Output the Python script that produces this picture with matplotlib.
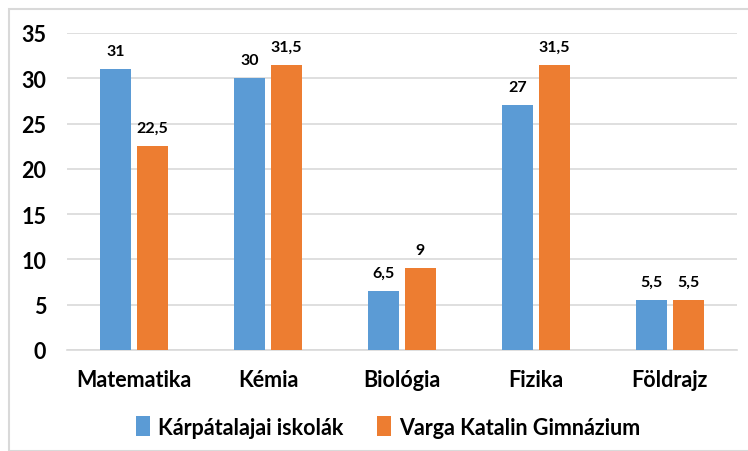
import matplotlib.pyplot as plt
import numpy as np
from matplotlib.patches import Rectangle

categories = ['Matematika', 'Kémia', 'Biológia', 'Fizika', 'Földrajz']
series_names = ['Kárpátalajai iskolák', 'Varga Katalin Gimnázium']
karpatalja = [31, 30, 6.5, 27, 5.5]
varga = [22.5, 31.5, 9, 31.5, 5.5]
y_ticks = [0, 5, 10, 15, 20, 25, 30, 35]

blue = '#5B9BD5'
orange = '#ED7D31'

plt.rcParams['font.family'] = ['Lato', 'DejaVu Sans']
plt.rcParams['font.weight'] = 'bold'

fig = plt.figure(figsize=(7.48, 4.52), dpi=100)
fig.patches.append(Rectangle((9 / 748, 0), 1, 1 - 10 / 452, transform=fig.transFigure,
                             fill=False, edgecolor='#D9D9D9', linewidth=1.5))
ax = fig.add_axes([0.0896, 0.2235, 0.8954, 0.7013])

x = np.arange(len(categories))
w = 0.23
off = 0.138
b1 = ax.bar(x - off, karpatalja, w, color=blue, label=series_names[0], zorder=3)
b2 = ax.bar(x + off, varga, w, color=orange, label=series_names[1], zorder=3)

def fmt(v):
    return ('%g' % v).replace('.', ',')

for bars, vals in ((b1, karpatalja), (b2, varga)):
    for rect, v in zip(bars, vals):
        ax.annotate(fmt(v), (rect.get_x() + rect.get_width() / 2, v),
                    xytext=(0, 8), textcoords='offset points',
                    ha='center', va='bottom', fontsize=11.5, fontweight='bold')

ax.set_xlim(-0.5, len(categories) - 0.5)
ax.set_ylim(0, 35)
ax.set_yticks(y_ticks)
ax.set_xticks(x)
ax.set_xticklabels(categories, fontsize=15.5, fontweight='bold')
ax.tick_params(axis='y', labelsize=15.5, length=0, pad=15)
ax.tick_params(axis='x', length=0, pad=14)
for lab in ax.get_yticklabels():
    lab.set_fontweight('bold')
ax.grid(axis='y', color='#D9D9D9', linewidth=1.2, zorder=0)
for s in ['top', 'right', 'left']:
    ax.spines[s].set_visible(False)
ax.spines['bottom'].set_color('#D9D9D9')
ax.spines['bottom'].set_linewidth(1.2)

fig.legend(handles=[b1, b2], loc='center', bbox_to_anchor=(0.519, 1 - 428 / 452),
           ncol=2, frameon=False, handlelength=0.65, handleheight=1.0,
           handletextpad=0.35, columnspacing=1.6, prop={'weight': 'bold', 'size': 15.5})

fig.savefig('out.png', dpi=100)
